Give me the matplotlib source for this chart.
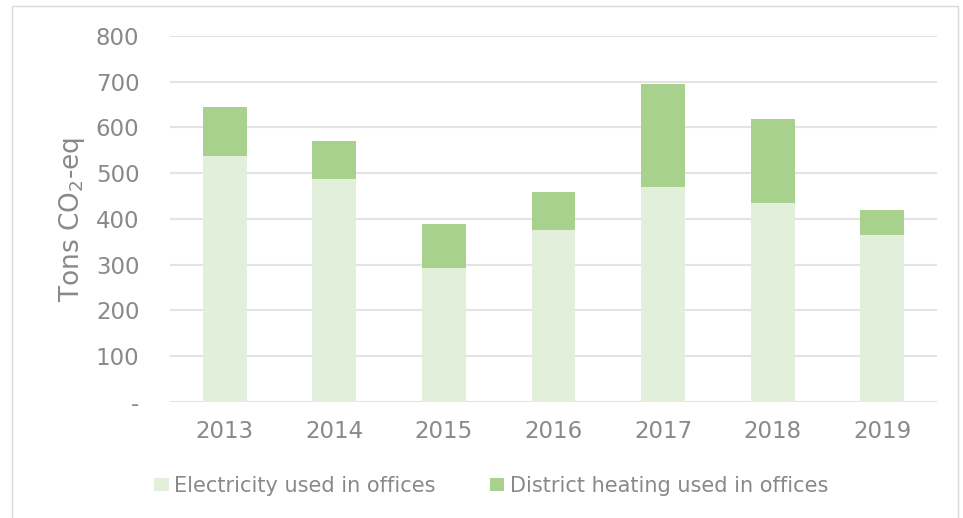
import numpy as np
import matplotlib.pyplot as plt
from matplotlib.patches import Rectangle

years = ['2013', '2014', '2015', '2016', '2017', '2018', '2019']
electricity = [538, 487, 293, 376, 470, 434, 365]
district_heating = [107, 83, 96, 82, 225, 185, 55]

text_grey = '#898989'
elec_color = '#e2efda'
heat_color = '#a9d18e'

fig = plt.figure(figsize=(9.63, 5.18), dpi=100)
ax = fig.add_axes([0.1765, 0.224, 0.7965, 0.7065])

x = np.arange(len(years))
ax.bar(x, electricity, width=0.4, color=elec_color, label='Electricity used in offices', zorder=2)
ax.bar(x, district_heating, width=0.4, bottom=electricity, color=heat_color,
       label='District heating used in offices', zorder=2)

ax.set_xlim(-0.5, len(years) - 0.5)
ax.set_ylim(0, 800)
ax.set_yticks(range(0, 801, 100))
ax.set_yticklabels(['-'] + [str(v) for v in range(100, 801, 100)])
ax.set_xticks(x)
ax.set_xticklabels(years)
ax.grid(axis='y', color='#e3e3e3', linewidth=1.5, zorder=0)
ax.tick_params(length=0, labelsize=16.5, colors=text_grey)
ax.tick_params(axis='y', pad=22)
ax.tick_params(axis='x', pad=13)
for s in ax.spines.values():
    s.set_visible(False)

ax.set_ylabel(r'Tons CO$_2$-eq', fontsize=19, color=text_grey, labelpad=6)

leg = fig.legend(loc='center', bbox_to_anchor=(0.51, 0.062), ncol=2, frameon=False,
                 fontsize=15, labelcolor=text_grey, handlelength=0.7, handleheight=0.6,
                 handletextpad=0.25, columnspacing=2.6)

# light border round the chart
fig.patches.append(Rectangle((12 / 963, -0.01), 946 / 963, 1 - 6 / 518 + 0.01,
                             transform=fig.transFigure, fill=False,
                             edgecolor='#d9d9d9', linewidth=1))

fig.savefig('out.png', dpi=100)
